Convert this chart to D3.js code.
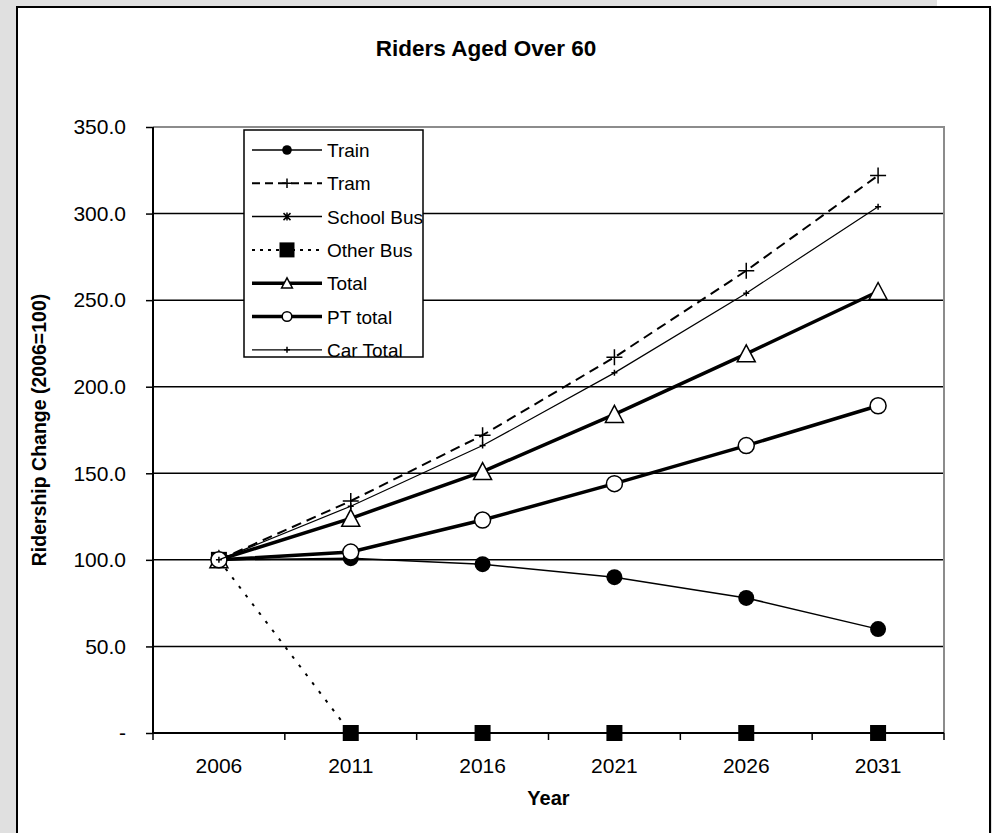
<!DOCTYPE html>
<html>
<head>
<meta charset="utf-8">
<script src="https://cdn.jsdelivr.net/npm/d3@7"></script>
<style>
  body { margin: 0; background: #e0e0e0; }
  text { font-family: "Liberation Sans", Arial, sans-serif; fill: #000; }
</style>
</head>
<body>
<script>
// values (2006 = 100)
var years = ["2006", "2011", "2016", "2021", "2026", "2031"]
var train = [100, 101, 97.5, 90, 78, 60]
var tram = [100, 134, 172, 217, 267, 322]
var schoolBus = [100, null, null, null, null, null]
var otherBus = [100, 0, 0, 0, 0, 0]
var total = [100, 124, 151, 184, 219, 255]
var ptTotal = [100, 104.5, 123, 144, 166, 189]
var carTotal = [100, 131, 166, 208, 254, 304]
var yTicks = [0, 50, 100, 150, 200, 250, 300, 350]

var series = [
  {name: "Train", values: train, width: 1.5, dash: null, legDash: null, marker: "dot"},
  {name: "Tram", values: tram, width: 2, dash: "10,6", legDash: "8,5", marker: "plus"},
  {name: "School Bus", values: schoolBus, width: 1.5, dash: null, legDash: null, marker: "star"},
  {name: "Other Bus", values: otherBus, width: 2, dash: "3,8", legDash: "3,5", marker: "square"},
  {name: "Total", values: total, width: 3.5, dash: null, legDash: null, marker: "triangle"},
  {name: "PT total", values: ptTotal, width: 3.5, dash: null, legDash: null, marker: "circle"},
  {name: "Car Total", values: carTotal, width: 1.2, dash: null, legDash: null, marker: "smallplus"}
]

var W = 992, H = 833
var plot = {left: 153, right: 944, top: 127, bottom: 733}

var svg = d3.select("body").append("svg")
  .attr("width", W)
  .attr("height", H)

// frame
svg.append("rect").attr("width", W).attr("height", H).attr("fill", "#e0e0e0")
svg.append("rect").attr("x", 937).attr("y", 0).attr("width", 55).attr("height", 8).attr("fill", "#fff")
svg.append("rect")
  .attr("x", 17).attr("y", 7)
  .attr("width", 973).attr("height", 840)
  .attr("fill", "#fff")
  .attr("stroke", "#000")
  .attr("stroke-width", 2)

var x = d3.scaleBand()
  .domain(years)
  .range([plot.left, plot.right])
  .padding(0)

var y = d3.scaleLinear()
  .domain([0, 350])
  .range([plot.bottom, plot.top])

// gridlines
svg.append("g")
  .selectAll("line")
  .data(yTicks.filter(function(d){ return d > 0 && d < 350 }))
  .enter()
  .append("line")
    .attr("x1", plot.left).attr("x2", plot.right)
    .attr("y1", function(d){ return y(d) }).attr("y2", function(d){ return y(d) })
    .attr("stroke", "#000")
    .attr("stroke-width", 1.5)

// plot area border (top and right grey)
svg.append("path")
  .attr("d", "M" + plot.left + "," + y(350) + "H" + plot.right + "V" + plot.bottom)
  .attr("fill", "none")
  .attr("stroke", "#8c8c8c")
  .attr("stroke-width", 2)

// y axis
var yAxis = svg.append("g")
  .attr("transform", "translate(" + plot.left + ",0)")
  .call(d3.axisLeft(y)
    .tickValues(yTicks)
    .tickSize(7)
    .tickPadding(20)
    .tickFormat(function(d){ return d === 0 ? "-" : d3.format(".1f")(d) }))
yAxis.select(".domain").attr("stroke", "#000").attr("stroke-width", 2).attr("d", "M0," + plot.top + "V" + plot.bottom)
yAxis.selectAll(".tick line").attr("stroke", "#000").attr("stroke-width", 1.5)
yAxis.selectAll(".tick text")
  .style("font-family", "'Liberation Sans', Arial, sans-serif")
  .style("font-size", "21px")
  .attr("fill", "#000")

// x axis, ticks at category boundaries
var xAxis = svg.append("g")
  .attr("transform", "translate(0," + plot.bottom + ")")
xAxis.append("line")
  .attr("x1", plot.left).attr("x2", plot.right)
  .attr("stroke", "#000").attr("stroke-width", 2)
var bounds = years.map(function(d){ return x(d) }).concat([plot.right])
xAxis.selectAll("line.tk")
  .data(bounds)
  .enter()
  .append("line")
    .attr("class", "tk")
    .attr("x1", function(d){ return d }).attr("x2", function(d){ return d })
    .attr("y1", 0).attr("y2", 7)
    .attr("stroke", "#000").attr("stroke-width", 1.5)
xAxis.selectAll("text")
  .data(years)
  .enter()
  .append("text")
    .attr("x", function(d){ return x(d) + x.bandwidth() / 2 })
    .attr("y", 40)
    .attr("text-anchor", "middle")
    .style("font-size", "21px")
    .text(function(d){ return d })

// titles
svg.append("text")
  .attr("x", 486).attr("y", 56)
  .attr("text-anchor", "middle")
  .style("font-size", "22.5px")
  .style("font-weight", "bold")
  .text("Riders Aged Over 60")

svg.append("text")
  .attr("x", (plot.left + plot.right) / 2).attr("y", 805)
  .attr("text-anchor", "middle")
  .style("font-size", "20px")
  .style("font-weight", "bold")
  .text("Year")

svg.append("text")
  .attr("transform", "translate(46," + (plot.top + plot.bottom) / 2 + ")rotate(-90)")
  .attr("text-anchor", "middle")
  .style("font-size", "19.5px")
  .style("font-weight", "bold")
  .text("Ridership Change (2006=100)")

// marker drawing, k scales the shape (legend uses smaller ones)
function drawMarker(g, type, cx, cy, k) {
  k = k || 1
  if (type === "dot") {
    g.append("circle").attr("cx", cx).attr("cy", cy).attr("r", 8 * k).attr("fill", "#000")
  } else if (type === "circle") {
    g.append("circle").attr("cx", cx).attr("cy", cy).attr("r", 8 * k)
      .attr("fill", "#fff").attr("stroke", "#000").attr("stroke-width", 1.5)
  } else if (type === "square") {
    var s = k < 1 ? 7.5 : 8
    g.append("rect").attr("x", cx - s).attr("y", cy - s).attr("width", 2 * s).attr("height", 2 * s).attr("fill", "#000")
  } else if (type === "triangle") {
    g.append("path")
      .attr("d", "M" + cx + "," + (cy - 9 * k) + "L" + (cx + 9 * k) + "," + (cy + 8 * k) + "L" + (cx - 9 * k) + "," + (cy + 8 * k) + "Z")
      .attr("fill", "#fff").attr("stroke", "#000").attr("stroke-width", 1.5)
  } else if (type === "plus") {
    g.append("path")
      .attr("d", "M" + (cx - 8 * k) + "," + cy + "H" + (cx + 8 * k) + "M" + cx + "," + (cy - 8 * k) + "V" + (cy + 8 * k))
      .attr("stroke", "#000").attr("stroke-width", 1.5)
  } else if (type === "smallplus") {
    g.append("path")
      .attr("d", "M" + (cx - 3) + "," + cy + "H" + (cx + 3) + "M" + cx + "," + (cy - 3) + "V" + (cy + 3))
      .attr("stroke", "#000").attr("stroke-width", 1.5)
  } else if (type === "star") {
    g.append("path")
      .attr("d", "M" + (cx - 3.5) + "," + (cy - 3.5) + "L" + (cx + 3.5) + "," + (cy + 3.5) +
                 "M" + (cx + 3.5) + "," + (cy - 3.5) + "L" + (cx - 3.5) + "," + (cy + 3.5) +
                 "M" + cx + "," + (cy - 4) + "V" + (cy + 4))
      .attr("stroke", "#000").attr("stroke-width", 1.5)
  }
}

var line = d3.line()
  .defined(function(d){ return d.v != null })
  .x(function(d){ return x(d.year) + x.bandwidth() / 2 })
  .y(function(d){ return y(d.v) })

// series lines + markers
series.forEach(function(s) {
  var pts = years.map(function(yr, i){ return {year: yr, v: s.values[i]} })
  var g = svg.append("g")
  g.append("path")
    .attr("d", line(pts))
    .attr("fill", "none")
    .attr("stroke", "#000")
    .attr("stroke-width", s.width)
    .attr("stroke-dasharray", s.dash)
  pts.filter(function(d){ return d.v != null }).forEach(function(d) {
    drawMarker(g, s.marker, x(d.year) + x.bandwidth() / 2, y(d.v))
  })
})

// legend
var legend = svg.append("g")
legend.append("rect")
  .attr("x", 244).attr("y", 130)
  .attr("width", 179).attr("height", 227)
  .attr("fill", "#fff").attr("stroke", "#000").attr("stroke-width", 1.5)

series.forEach(function(s, i) {
  var ly = 150 + i * 33.3
  var g = legend.append("g")
  g.append("line")
    .attr("x1", 252).attr("x2", 322)
    .attr("y1", ly).attr("y2", ly)
    .attr("stroke", "#000")
    .attr("stroke-width", s.width)
    .attr("stroke-dasharray", s.legDash)
  drawMarker(g, s.marker, 287, ly, 0.6)
  g.append("text")
    .attr("x", 327).attr("y", ly + 7)
    .style("font-size", "19px")
    .text(s.name)
})
</script>
</body>
</html>
